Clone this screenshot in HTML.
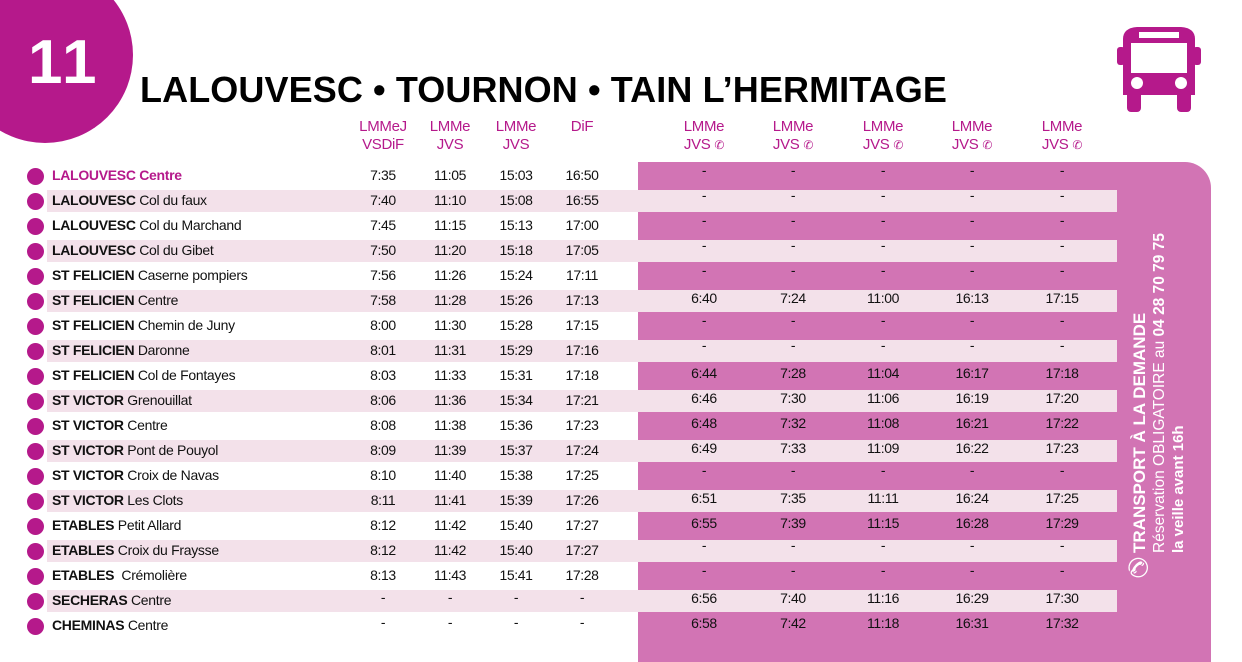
<!DOCTYPE html>
<html><head><meta charset="utf-8"><style>
body{margin:0;width:1242px;height:650px;overflow:hidden;background:#fff;position:relative;font-family:"Liberation Sans",sans-serif;}
.a{position:absolute}
.t{position:absolute;font-size:14px;color:#111;letter-spacing:-0.3px}
.c{position:absolute;font-size:14px;color:#111;width:60px;text-align:center;margin-left:-30px;letter-spacing:-0.4px}
.h{position:absolute;font-size:15px;color:#b5198b;width:80px;text-align:center;margin-left:-40px;line-height:18px;letter-spacing:-0.3px}
.dot{position:absolute;width:17px;height:17px;border-radius:50%;background:#b5198b;left:27px}
</style></head><body>
<div class="a" style="left:-43px;top:-33px;width:176px;height:176px;border-radius:50%;background:#b5198b"></div>
<div class="a" style="left:28px;top:28px;font-size:62px;font-weight:bold;color:#fff;letter-spacing:3px;line-height:70px">11</div>
<div class="a" style="left:140px;top:69px;font-size:36px;font-weight:bold;color:#000;letter-spacing:0.1px;white-space:nowrap">LALOUVESC • TOURNON • TAIN L’HERMITAGE</div>
<svg class="a" style="left:1117px;top:25px" width="84" height="88" viewBox="0 0 84 88">
<path d="M6 14 Q6 3 20 2 L64 2 Q78 3 78 14 L78 70 L6 70 Z" fill="#b5198b"/>
<rect x="0" y="22" width="8" height="18" rx="3" fill="#b5198b"/><rect x="76" y="22" width="8" height="18" rx="3" fill="#b5198b"/>
<rect x="10" y="66" width="14" height="21" rx="4" fill="#b5198b"/><rect x="60" y="66" width="14" height="21" rx="4" fill="#b5198b"/>
<rect x="22" y="7" width="40" height="6" fill="#fff"/><rect x="14" y="18" width="56" height="30" fill="#fff"/>
<circle cx="20" cy="58" r="6" fill="#fff"/><circle cx="64" cy="58" r="6" fill="#fff"/>
</svg>
<div class="a" style="left:638px;top:162px;width:573px;height:500px;background:#d274b4;border-radius:0 26px 0 0"></div>
<div id="rows"></div>
<div class="a" style="left:1130px;top:553px;width:330px;transform:rotate(-90deg);transform-origin:left top;color:#fff;line-height:19px;white-space:nowrap">
<div style="font-size:17px;font-weight:bold;line-height:20px">TRANSPORT À LA DEMANDE</div>
<div style="font-size:15.5px;font-weight:normal">Réservation OBLIGATOIRE au <b>04 28 70 79 75</b></div>
<div style="font-size:15px;font-weight:bold">la veille avant 16h</div>
</div>
<div class="a" style="left:1127px;top:553px;font-size:26px;color:#fff;transform:rotate(20deg)">✆</div>
<script>
var H='';
var hd=[[383,'LMMeJ<br>VSDiF'],[450,'LMMe<br>JVS'],[516,'LMMe<br>JVS'],[582,'DiF<br>&nbsp;']];
hd.forEach(function(h){H+='<div class="h" style="left:'+h[0]+'px;top:118px">'+h[1]+'</div>';});
[704,793,883,972,1062].forEach(function(x){H+='<div class="h" style="left:'+x+'px;top:118px">LMMe<br>JVS <span style="font-size:12px">✆</span></div>';});
var R=[
['LALOUVESC Centre','', '7:35 11:05 15:03 16:50','-'],
['LALOUVESC','Col du faux','7:40 11:10 15:08 16:55','-'],
['LALOUVESC','Col du Marchand','7:45 11:15 15:13 17:00','-'],
['LALOUVESC','Col du Gibet','7:50 11:20 15:18 17:05','-'],
['ST FELICIEN','Caserne pompiers','7:56 11:26 15:24 17:11','-'],
['ST FELICIEN','Centre','7:58 11:28 15:26 17:13','6:40 7:24 11:00 16:13 17:15'],
['ST FELICIEN','Chemin de Juny','8:00 11:30 15:28 17:15','-'],
['ST FELICIEN','Daronne','8:01 11:31 15:29 17:16','-'],
['ST FELICIEN','Col de Fontayes','8:03 11:33 15:31 17:18','6:44 7:28 11:04 16:17 17:18'],
['ST VICTOR','Grenouillat','8:06 11:36 15:34 17:21','6:46 7:30 11:06 16:19 17:20'],
['ST VICTOR','Centre','8:08 11:38 15:36 17:23','6:48 7:32 11:08 16:21 17:22'],
['ST VICTOR','Pont de Pouyol','8:09 11:39 15:37 17:24','6:49 7:33 11:09 16:22 17:23'],
['ST VICTOR','Croix de Navas','8:10 11:40 15:38 17:25','-'],
['ST VICTOR','Les Clots','8:11 11:41 15:39 17:26','6:51 7:35 11:11 16:24 17:25'],
['ETABLES','Petit Allard','8:12 11:42 15:40 17:27','6:55 7:39 11:15 16:28 17:29'],
['ETABLES','Croix du Fraysse','8:12 11:42 15:40 17:27','-'],
['ETABLES','&nbsp;Crémolière','8:13 11:43 15:41 17:28','-'],
['SECHERAS','Centre','- - - -','6:56 7:40 11:16 16:29 17:30'],
['CHEMINAS','Centre','- - - -','6:58 7:42 11:18 16:31 17:32']];
R.forEach(function(r,i){
 var y=164+i*25;
 if(i%2==1)H+='<div class="a" style="left:47px;top:'+(y+1)+'px;width:1070px;height:22px;background:#f3e1ea"></div>';
 H+='<div class="dot" style="top:'+(y+4)+'px"></div>';
 if(i==0)H+='<div class="t" style="left:52px;top:'+(y+3)+'px;color:#b5198b;font-weight:bold">'+r[0]+'</div>';
 else H+='<div class="t" style="left:52px;top:'+(y+3)+'px"><b>'+r[0]+'</b> '+r[1]+'</div>';
 var v=r[2].split(' ');[383,450,516,582].forEach(function(x,k){H+='<div class="c" style="left:'+x+'px;top:'+(y+(v[k]=='-'?0:3))+'px">'+v[k]+'</div>';});
 var w=r[3]=='-'?['-','-','-','-','-']:r[3].split(' ');
 [704,793,883,972,1062].forEach(function(x,k){H+='<div class="c" style="left:'+x+'px;top:'+(y+(w[k]=='-'?-2:1))+'px">'+w[k]+'</div>';});
});
document.getElementById('rows').innerHTML=H;
</script>
</body></html>
